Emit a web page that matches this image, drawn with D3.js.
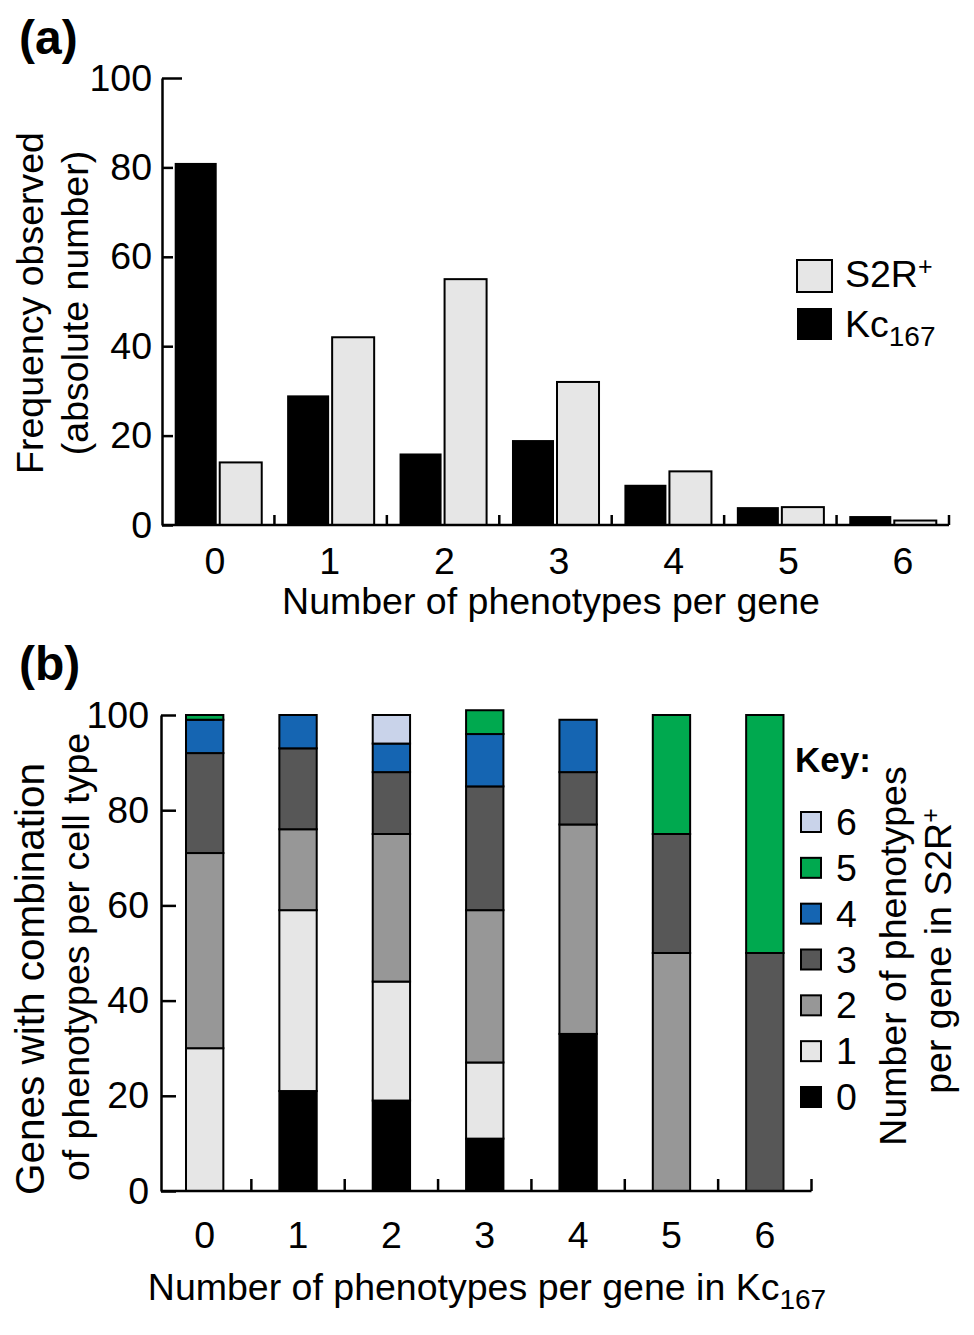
<!DOCTYPE html>
<html><head><meta charset="utf-8">
<script src="https://cdn.jsdelivr.net/npm/d3@7"></script>
<style>
html,body{margin:0;padding:0;background:#fff;}
svg text{font-family:"Liberation Sans",Arial,Helvetica,sans-serif;fill:#000;}
</style></head>
<body>
<svg id="chart" width="974" height="1335"></svg>
<script>
// ---------- data ----------
const categories = [0, 1, 2, 3, 4, 5, 6];
const kc167 = [81, 29, 16, 19, 9, 4, 2];
const s2rPlus = [14, 42, 55, 32, 12, 4, 1];
const yTicksA = [0, 20, 40, 60, 80, 100];
const yTicksB = [0, 20, 40, 60, 80, 100];
// panel (b): percent of genes with k phenotypes in S2R+ for each Kc167 category
const s2rLevels = [0, 1, 2, 3, 4, 5, 6];
const s2r0 = [0, 21, 19, 11, 33, 0, 0];
const s2r1 = [30, 38, 25, 16, 0, 0, 0];
const s2r2 = [41, 17, 31, 32, 44, 50, 0];
const s2r3 = [21, 17, 13, 26, 11, 25, 50];
const s2r4 = [7, 7, 6, 11, 11, 0, 0];
const s2r5 = [1, 0, 0, 5, 0, 25, 50];
const s2r6 = [0, 0, 6, 0, 0, 0, 0];
const levelColors = ["#000000", "#e6e6e6", "#979797", "#575757", "#1565b2", "#00a94f", "#c9d3ea"];

const svg = d3.select("#chart");
const FS = 37.5;

// ---------- panel (a) ----------
const xA = d3.scaleBand().domain(categories).range([162, 949]);
const xSub = d3.scaleBand().domain(["kc", "s2r"]).range([0, xA.bandwidth()])
  .paddingInner(0.0667).paddingOuter(0.282);
const xLabA = d3.scalePoint().domain(categories).range([215, 903]);
const yA = d3.scaleLinear().domain([0, 100]).range([525, 78]);

svg.append("text").attr("x", 19).attr("y", 54).attr("font-size", 48)
  .attr("font-weight", "bold").text("(a)");

const gA = svg.append("g");
gA.selectAll("rect.kc").data(categories).join("rect")
  .attr("x", d => xA(d) + xSub("kc")).attr("width", xSub.bandwidth())
  .attr("y", d => yA(kc167[d])).attr("height", d => yA(0) - yA(kc167[d]))
  .attr("fill", "#000");
gA.selectAll("rect.s2r").data(categories).join("rect")
  .attr("x", d => xA(d) + xSub("s2r")).attr("width", xSub.bandwidth())
  .attr("y", d => yA(s2rPlus[d])).attr("height", d => yA(0) - yA(s2rPlus[d]))
  .attr("fill", "#e6e6e6").attr("stroke", "#000").attr("stroke-width", 2);

// y axis (a)
const yAxA = svg.append("g").attr("transform", "translate(162,0)")
  .call(d3.axisLeft(yA).tickValues(yTicksA).tickSize(-11).tickSizeOuter(0).tickPadding(10));
yAxA.selectAll("text").attr("font-size", FS).attr("font-family", null);
yAxA.selectAll("line").filter(d => d === 100).attr("x2", 20);

// x axis (a)
svg.append("line").attr("x1", xA.range()[0]).attr("x2", xA.range()[1])
  .attr("y1", yA(0)).attr("y2", yA(0)).attr("stroke", "#000").attr("stroke-width", 2.5);
svg.selectAll("line.tickA").data(categories).join("line")
  .attr("x1", d => xA(d) + xA.bandwidth()).attr("x2", d => xA(d) + xA.bandwidth())
  .attr("y1", yA(0)).attr("y2", yA(0) - 10).attr("stroke", "#000").attr("stroke-width", 2.5);
svg.selectAll("text.xlabA").data(categories).join("text")
  .attr("x", d => xLabA(d)).attr("y", 574).attr("text-anchor", "middle")
  .attr("font-size", FS).text(d => d);
svg.append("text").attr("x", 551).attr("y", 614).attr("text-anchor", "middle")
  .attr("font-size", FS).text("Number of phenotypes per gene");

// y title (a)
svg.append("text").attr("transform", "translate(43,303) rotate(-90)")
  .attr("text-anchor", "middle").attr("font-size", FS).text("Frequency observed");
svg.append("text").attr("transform", "translate(88,303) rotate(-90)")
  .attr("text-anchor", "middle").attr("font-size", FS).text("(absolute number)");

// legend (a)
svg.append("rect").attr("x", 797).attr("y", 260).attr("width", 35).attr("height", 32)
  .attr("fill", "#e6e6e6").attr("stroke", "#000").attr("stroke-width", 2);
svg.append("rect").attr("x", 797).attr("y", 308).attr("width", 35).attr("height", 32)
  .attr("fill", "#000");
const tS = svg.append("text").attr("x", 845).attr("y", 287).attr("font-size", FS);
tS.append("tspan").text("S2R");
tS.append("tspan").attr("font-size", 25).attr("dy", -12).text("+");
const tK = svg.append("text").attr("x", 845).attr("y", 337).attr("font-size", FS);
tK.append("tspan").text("Kc");
tK.append("tspan").attr("font-size", 28).attr("dy", 9).text("167");

// ---------- panel (b) ----------
svg.append("text").attr("x", 19).attr("y", 680).attr("font-size", 48)
  .attr("font-weight", "bold").text("(b)");

const xB = d3.scaleBand().domain(categories).range([158, 811.5]).paddingInner(0.6).paddingOuter(0.3);
const yB = d3.scaleLinear().domain([0, 100]).range([1191, 715]);

const levelArrays = [s2r0, s2r1, s2r2, s2r3, s2r4, s2r5, s2r6];
const tableB = categories.map((c, i) => {
  const row = { cat: c };
  s2rLevels.forEach((k, j) => { row[k] = levelArrays[j][i]; });
  return row;
});
const stackB = d3.stack().keys(s2rLevels)(tableB);

const gB = svg.append("g");
stackB.forEach((layer, j) => {
  gB.selectAll(null).data(layer.filter(d => d[1] - d[0] > 0)).join("rect")
    .attr("x", d => xB(d.data.cat)).attr("width", xB.bandwidth())
    .attr("y", d => yB(d[1])).attr("height", d => yB(d[0]) - yB(d[1]))
    .attr("fill", levelColors[j]).attr("stroke", "#000").attr("stroke-width", 2);
});

const yAxB = svg.append("g").attr("transform", "translate(161,0)")
  .call(d3.axisLeft(yB).tickValues(yTicksB).tickSize(-15).tickSizeOuter(0).tickPadding(12));
yAxB.selectAll("text").attr("font-size", FS).attr("font-family", null);

const stepB = xB.step();
svg.append("line").attr("x1", 161).attr("x2", xB(6) + xB.bandwidth() + stepB * 0.3)
  .attr("y1", yB(0)).attr("y2", yB(0)).attr("stroke", "#000").attr("stroke-width", 2.5);
svg.selectAll("line.tickB").data(categories).join("line")
  .attr("x1", d => xB(d) + xB.bandwidth() + stepB * 0.3)
  .attr("x2", d => xB(d) + xB.bandwidth() + stepB * 0.3)
  .attr("y1", yB(0)).attr("y2", yB(0) - 12).attr("stroke", "#000").attr("stroke-width", 2.5);
svg.selectAll("text.xlabB").data(categories).join("text")
  .attr("x", d => xB(d) + xB.bandwidth() / 2).attr("y", 1248).attr("text-anchor", "middle")
  .attr("font-size", FS).text(d => d);
const tXB = svg.append("text").attr("x", 487).attr("y", 1300).attr("text-anchor", "middle")
  .attr("font-size", FS);
tXB.append("tspan").text("Number of phenotypes per gene in Kc");
tXB.append("tspan").attr("font-size", 28).attr("dy", 9).text("167");

svg.append("text").attr("transform", "translate(44,979) rotate(-90)")
  .attr("text-anchor", "middle").attr("font-size", 40.5).text("Genes with combination");
svg.append("text").attr("transform", "translate(89,957) rotate(-90)")
  .attr("text-anchor", "middle").attr("font-size", FS).text("of phenotypes per cell type");

// key
svg.append("text").attr("x", 795).attr("y", 772).attr("font-size", 35)
  .attr("font-weight", "bold").text("Key:");
const keyOrder = s2rLevels.slice().reverse();
const yKey = d3.scalePoint().domain(keyOrder).range([822, 1097]);
svg.selectAll("rect.key").data(keyOrder).join("rect")
  .attr("x", 801).attr("y", d => yKey(d) - 10).attr("width", 20).attr("height", 20)
  .attr("fill", d => levelColors[d]).attr("stroke", "#000").attr("stroke-width", 2);
svg.selectAll("text.key").data(keyOrder).join("text")
  .attr("x", 836).attr("y", d => yKey(d) + 13).attr("font-size", FS).text(d => d);

svg.append("text").attr("transform", "translate(906,956) rotate(-90)")
  .attr("text-anchor", "middle").attr("font-size", FS).text("Number of phenotypes");
const tR = svg.append("text").attr("transform", "translate(951,951) rotate(-90)")
  .attr("text-anchor", "middle").attr("font-size", FS);
tR.append("tspan").text("per gene in S2R");
tR.append("tspan").attr("font-size", 25).attr("dy", -12).text("+");

svg.selectAll(".domain").attr("stroke-width", 2.5);
svg.selectAll(".tick line").attr("stroke-width", 2.5);
</script>
</body></html>
